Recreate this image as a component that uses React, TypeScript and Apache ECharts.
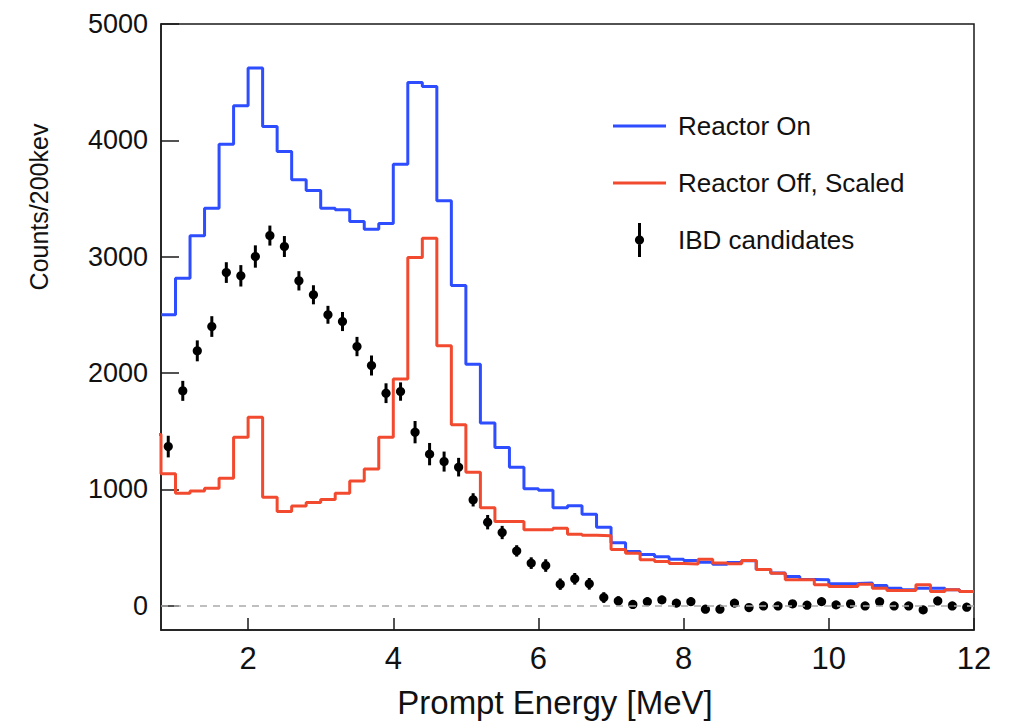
import React, { useEffect, useRef } from 'react';
import * as echarts from 'echarts';

// Bin edges of the 200 keV histogram (MeV)
const binEdges = [
  0.8, 1.0, 1.2, 1.4, 1.6, 1.8, 2.0, 2.2, 2.4, 2.6, 2.8, 3.0, 3.2, 3.4, 3.6, 3.8,
  4.0, 4.2, 4.4, 4.6, 4.8, 5.0, 5.2, 5.4, 5.6, 5.8, 6.0, 6.2, 6.4, 6.6, 6.8, 7.0,
  7.2, 7.4, 7.6, 7.8, 8.0, 8.2, 8.4, 8.6, 8.8, 9.0, 9.2, 9.4, 9.6, 9.8, 10.0, 10.2,
  10.4, 10.6, 10.8, 11.0, 11.2, 11.4, 11.6, 11.8, 12.0,
];

const reactorOn = [
  2500, 2815, 3179, 3417, 3967, 4297, 4621, 4119, 3904, 3660, 3568, 3417, 3402, 3302,
  3236, 3285, 3795, 4497, 4463, 3480, 2751, 2075, 1570, 1358, 1190, 1005, 992, 842,
  858, 786, 674, 540, 464, 440, 420, 399, 387, 372, 356, 370, 385, 310, 279, 250,
  225, 221, 188, 190, 194, 172, 150, 135, 150, 150, 135, 120,
];

// bin 0.6–0.8 MeV, only its right edge is visible at the frame
const reactorOffPrevEdge = 0.6;
const reactorOffPrev = 1470;
const reactorOff = [
  1133, 966, 986, 1009, 1095, 1448, 1620, 932, 808, 857, 886, 912, 966, 1072,
  1175, 1448, 1948, 2992, 3159, 2233, 1554, 1146, 842, 722, 722, 652, 652, 664,
  614, 604, 600, 482, 450, 395, 378, 362, 357, 399, 367, 360, 387, 310, 278, 223,
  221, 178, 163, 163, 184, 150, 129, 129, 178, 120, 135, 120,
];

const ibd = [
  1367, 1846, 2190, 2399, 2863, 2835, 3001, 3181, 3087, 2792, 2672, 2500, 2442, 2227,
  2064, 1826, 1840, 1491, 1302, 1238, 1190, 909, 717, 628, 470, 365, 344, 184,
  230, 187, 69, 40, 10, 34, 49, 21, 34, -31, -31, 21, -17, -3, -3, 15,
  3, 34, 6, 15, -3, 34, -3, -3, -37, 40, -3, -14,
];

const ibdErr = [
  93, 86, 90, 89, 89, 92, 96, 86, 90, 83, 82, 77, 82, 83,
  86, 85, 79, 96, 96, 86, 80, 57, 62, 57, 49, 50, 54, 49,
  50, 50, 46, 40, 36, 35, 35, 34, 35, 33, 33, 34, 33, 32, 32, 32,
  31, 32, 31, 31, 30, 31, 30, 30, 29, 30, 29, 29,
];

const xTicks = [2, 4, 6, 8, 10, 12];
const yTicks = [0, 1000, 2000, 3000, 4000, 5000];

const BLUE = '#2d4dff';
const RED = '#f24a2f';
const FONT = '"Liberation Sans", Arial, Helvetica, sans-serif';
const AXIS = '#1a1a1a';

export default function App() {
  const ref = useRef<HTMLDivElement>(null);

  useEffect(() => {
    if (!ref.current) return;
    const chart = echarts.init(ref.current, undefined, { renderer: 'svg' });

    const nBins = reactorOn.length;
    const onData = binEdges.map((e, i) => [e, reactorOn[Math.min(i, nBins - 1)]]);
    const offData = [[reactorOffPrevEdge, reactorOffPrev]].concat(
      binEdges.map((e, i) => [e, reactorOff[Math.min(i, nBins - 1)]])
    );
    const ibdData = ibd.map((v, i) => [(binEdges[i] + binEdges[i + 1]) / 2, v, ibdErr[i]]);

    const linePath = 'path://M0 0M53 34M0 15.5h53v3H0z';
    const ibdPath =
      'path://M0 0M53 34M25 0h3v34h-3zM21.9 17a4.6 4.6 0 1 1 9.2 0a4.6 4.6 0 1 1 -9.2 0z';

    chart.setOption({
      animation: false,
      backgroundColor: '#fff',
      grid: {
        left: 161,
        top: 24,
        right: 41,
        bottom: 92,
        show: true,
        borderColor: AXIS,
        borderWidth: 1.5,
        backgroundColor: 'transparent',
      },
      legend: {
        orient: 'vertical',
        left: 608,
        top: 104,
        itemWidth: 53,
        itemHeight: 34,
        itemGap: 23,
        selectedMode: false,
        itemStyle: { borderWidth: 0 },
        textStyle: {
          fontSize: 26,
          fontFamily: FONT,
          color: '#111',
          padding: [0, 0, 0, 7],
        },
        data: [
          { name: 'Reactor On', icon: linePath },
          { name: 'Reactor Off, Scaled', icon: linePath },
          { name: 'IBD candidates', icon: ibdPath },
        ],
      },
      xAxis: {
        type: 'value',
        min: 0.8,
        max: 12,
        axisLine: { show: true, onZero: false, lineStyle: { color: AXIS, width: 1.5 } },
        axisTick: {
          show: true,
          inside: true,
          length: 12,
          customValues: xTicks,
          lineStyle: { color: AXIS, width: 1.5 },
        },
        axisLabel: {
          customValues: xTicks,
          fontSize: 31,
          margin: 13,
          color: '#111',
          fontFamily: FONT,
          formatter: (v: number) => String(v),
        },
        splitLine: { show: false },
      },
      yAxis: {
        type: 'value',
        min: -210,
        max: 5000,
        axisLine: { show: true, lineStyle: { color: AXIS, width: 1.5 } },
        axisTick: {
          show: true,
          inside: true,
          length: 18,
          customValues: yTicks,
          lineStyle: { color: AXIS, width: 1.5 },
        },
        axisLabel: {
          customValues: yTicks,
          fontSize: 27,
          margin: 13,
          color: '#111',
          fontFamily: FONT,
          formatter: (v: number) => String(v),
        },
        splitLine: { show: false },
      },
      graphic: [
        {
          type: 'text',
          x: 39,
          y: 207,
          rotation: Math.PI / 2,
          style: {
            text: 'Counts/200kev',
            fontSize: 25,
            fontFamily: FONT,
            fill: '#111',
            textAlign: 'center',
            textVerticalAlign: 'middle',
          },
        },
        {
          type: 'text',
          x: 555,
          y: 702,
          style: {
            text: 'Prompt Energy [MeV]',
            fontSize: 33,
            fontFamily: FONT,
            fill: '#111',
            textAlign: 'center',
            textVerticalAlign: 'middle',
          },
        },
      ],
      series: [
        {
          name: 'Reactor On',
          type: 'line',
          step: 'end',
          symbol: 'none',
          data: onData,
          itemStyle: { color: BLUE, borderWidth: 0 },
          lineStyle: { color: BLUE, width: 3 },
          z: 2,
          markLine: {
            silent: true,
            symbol: 'none',
            label: { show: false },
            lineStyle: { type: [7, 6], color: '#aaaaaa', width: 1.5 },
            data: [{ yAxis: 0 }],
          },
        },
        {
          name: 'Reactor Off, Scaled',
          type: 'line',
          step: 'end',
          symbol: 'none',
          clip: true,
          data: offData,
          itemStyle: { color: RED, borderWidth: 0 },
          lineStyle: { color: RED, width: 3 },
          z: 3,
        },
        {
          name: 'IBD candidates',
          type: 'custom',
          data: ibdData,
          encode: { x: 0, y: 1 },
          itemStyle: { color: '#000' },
          z: 4,
          renderItem: (params: any, api: any) => {
            const x = api.value(0);
            const y = api.value(1);
            const e = api.value(2);
            const c = api.coord([x, y]);
            const t = api.coord([x, y + e]);
            const b = api.coord([x, y - e]);
            return {
              type: 'group',
              children: [
                {
                  type: 'line',
                  shape: { x1: c[0], y1: t[1], x2: c[0], y2: b[1] },
                  style: { stroke: '#000', lineWidth: 3 },
                },
                {
                  type: 'circle',
                  shape: { cx: c[0], cy: c[1], r: 4.6 },
                  style: { fill: '#000' },
                },
              ],
            };
          },
        },
      ],
    });

    return () => chart.dispose();
  }, []);

  return (
    <div
      ref={ref}
      style={{ position: 'fixed', left: 0, top: 0, width: 1015, height: 722, background: '#fff' }}
    />
  );
}
